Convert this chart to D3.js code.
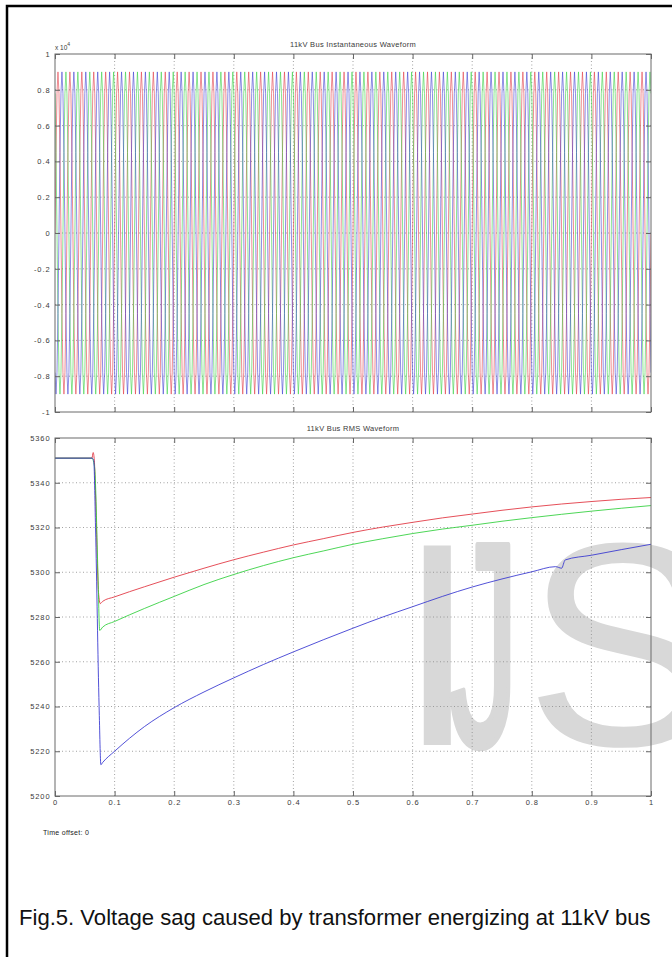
<!DOCTYPE html>
<html><head><meta charset="utf-8">
<script src="https://cdn.jsdelivr.net/npm/d3@7"></script>
<style>body{margin:0;background:#fff}svg{display:block}</style>
</head><body><svg id="c" width="672" height="957"></svg>
<script>
// ---------- data ----------
const timeTicks = [0,0.1,0.2,0.3,0.4,0.5,0.6,0.7,0.8,0.9,1];
const timeTickLabels = ["0","0.1","0.2","0.3","0.4","0.5","0.6","0.7","0.8","0.9","1"];
const instTicks = [1,0.8,0.6,0.4,0.2,0,-0.2,-0.4,-0.6,-0.8,-1];
const instTickLabels = ["1","0.8","0.6","0.4","0.2","0","-0.2","-0.4","-0.6","-0.8","-1"];
const rmsTicks = [5200,5220,5240,5260,5280,5300,5320,5340,5360];
const rmsTickLabels = ["5200","5220","5240","5260","5280","5300","5320","5340","5360"];
// one 50 Hz cycle of the instantaneous waveform (x10^4), read at 30 degree steps
const cycleShape = [0,0.45,0.78,0.9,0.78,0.45,0,-0.45,-0.78,-0.9,-0.78,-0.45];
const cyclesShown = 50;
const phaseShiftSamples = [0,4,8];   // 0, 120, 240 degrees
// RMS waveform, [time s, volts]
const rmsA = [[0,5351],[0.062,5351],[0.064,5353.5],[0.066,5350],[0.068,5335],[0.073,5291],[0.076,5286],[0.08,5287],[0.1,5289],[0.15,5293.5],[0.2,5297.8],[0.25,5301.8],[0.3,5305.6],[0.35,5309],[0.4,5312.2],[0.45,5315],[0.5,5317.8],[0.55,5320.2],[0.6,5322.3],[0.65,5324.3],[0.7,5326],[0.75,5327.7],[0.8,5329.2],[0.85,5330.5],[0.9,5331.6],[0.95,5332.6],[1,5333.4]];
const rmsB = [[0,5351],[0.062,5351],[0.065,5349],[0.067,5345],[0.072,5300],[0.075,5274],[0.08,5275.5],[0.1,5278],[0.15,5283.8],[0.2,5289.2],[0.25,5294.5],[0.3,5299],[0.35,5303],[0.4,5306.5],[0.45,5309.5],[0.5,5312.5],[0.55,5315],[0.6,5317.3],[0.65,5319.3],[0.7,5321],[0.75,5322.8],[0.8,5324.4],[0.85,5325.9],[0.9,5327.3],[0.95,5328.6],[1,5329.8]];
const rmsC = [[0,5351],[0.062,5351],[0.065,5350],[0.068,5320],[0.074,5240],[0.077,5214],[0.08,5215],[0.1,5220],[0.15,5231],[0.2,5239.5],[0.25,5246.5],[0.3,5252.8],[0.35,5258.8],[0.4,5264.4],[0.45,5269.8],[0.5,5275],[0.55,5280],[0.6,5284.6],[0.65,5289.2],[0.7,5293.4],[0.75,5297],[0.8,5300.2],[0.84,5302.5],[0.85,5301.8],[0.856,5305.5],[0.9,5307.6],[0.95,5310.1],[1,5312.5]];
const phaseColors = ["#e0303c","#2ecf3a","#3434d0"];

// ---------- layout ----------
const svg = d3.select("#c");
const xL = 55, xR = 651;
const top1 = 54, bot1 = 412, top2 = 438, bot2 = 796;
const x = d3.scaleLinear().domain([0,1]).range([xL,xR]);
const yI = d3.scaleLinear().domain([-1,1]).range([bot1,top1]);
const yR = d3.scaleLinear().domain([5200,5360]).range([bot2,top2]);

svg.append("rect").attr("width",672).attr("height",957).attr("fill","#fff");

// watermark (one text element)
const wm = svg.append("text").attr("y",745).attr("fill","#d8d8d8")
  .style("font-family","'Liberation Sans',Arial,sans-serif").style("font-size","290px");
wm.append("tspan").attr("x",397).text("I");
wm.append("tspan").attr("x",449).attr("textLength",70).attr("lengthAdjust","spacingAndGlyphs")
  .attr("stroke","#d8d8d8").attr("stroke-width",7).attr("stroke-linejoin","round").text("J");
wm.append("tspan").attr("x",525).text("S");

svg.append("defs").call(d=>{
  d.append("clipPath").attr("id","clip1").append("rect").attr("x",xL).attr("y",top1).attr("width",xR-xL).attr("height",bot1-top1);
  d.append("clipPath").attr("id","clip2").append("rect").attr("x",xL).attr("y",top2).attr("width",xR-xL).attr("height",bot2-top2);
});

function panel(y, top, bot, yTicks, yLabels, title, clipId, showX){
  const g = svg.append("g");
  const grid = g.append("g").attr("stroke","#8a8a8a").attr("stroke-width",0.8).attr("stroke-dasharray","1,2.5");
  grid.selectAll(".gx").data(timeTicks.slice(1,-1)).join("line")
    .attr("x1",d=>x(d)).attr("x2",d=>x(d)).attr("y1",top).attr("y2",bot);
  grid.selectAll(".gy").data(yTicks.slice(1,-1)).join("line")
    .attr("x1",xL).attr("x2",xR).attr("y1",d=>y(d)).attr("y2",d=>y(d));
  const plot = g.append("g").attr("clip-path",`url(#${clipId})`);
  const style = sel=>{
    sel.select(".domain").remove();
    sel.selectAll("line").attr("stroke","#666");
    sel.selectAll("text").attr("fill","#3a3a3a").style("font-family","'Liberation Sans',Arial,sans-serif").style("font-size","7.5px").style("letter-spacing","0.9px");
  };
  g.append("g").attr("transform",`translate(0,${bot})`)
    .call(d3.axisBottom(x).tickValues(timeTicks).tickSizeInner(-5).tickSizeOuter(0).tickPadding(4)
      .tickFormat((d,i)=>showX?timeTickLabels[i]:"")).call(style);
  g.append("g").attr("transform",`translate(0,${top})`)
    .call(d3.axisTop(x).tickValues(timeTicks).tickSizeInner(-5).tickSizeOuter(0).tickFormat("")).call(style);
  g.append("g").attr("transform",`translate(${xL},0)`)
    .call(d3.axisLeft(y).tickValues(yTicks).tickSizeInner(-5).tickSizeOuter(0).tickPadding(4.5)
      .tickFormat((d,i)=>yLabels[i])).call(style);
  g.append("g").attr("transform",`translate(${xR},0)`)
    .call(d3.axisRight(y).tickValues(yTicks).tickSizeInner(-5).tickSizeOuter(0).tickFormat("")).call(style);
  g.append("rect").attr("x",xL).attr("y",top).attr("width",xR-xL).attr("height",bot-top)
    .attr("fill","none").attr("stroke","#6a6a6a").attr("stroke-width",1);
  g.append("text").attr("x",(xL+xR)/2).attr("y",top-7).attr("text-anchor","middle")
    .attr("fill","#3a3a3a").style("font-family","'Liberation Sans',Arial,sans-serif").style("font-size","7.5px").style("letter-spacing","0.3px").text(title);
  return plot;
}

const p1 = panel(yI, top1, bot1, instTicks, instTickLabels, "11kV Bus Instantaneous Waveform", "clip1", false);
const p2 = panel(yR, top2, bot2, rmsTicks, rmsTickLabels, "11kV Bus RMS Waveform", "clip2", true);

// exponent label
const ex = svg.append("text").attr("x",55).attr("y",49.5).attr("fill","#3a3a3a")
  .style("font-family","'Liberation Sans',Arial,sans-serif").style("font-size","6.5px");
ex.append("tspan").text("x 10");
ex.append("tspan").attr("dy",-3.5).style("font-size","5px").text("4");

// instantaneous waveform
const nSamp = cyclesShown*cycleShape.length;
const line1 = d3.line().x(d=>x(d[0])).y(d=>yI(d[1]));
phaseShiftSamples.forEach((s,pi)=>{
  const pts = d3.range(nSamp+1).map(i=>[i/nSamp, cycleShape[(i+s)%cycleShape.length]]);
  p1.append("path").datum(pts).attr("d",line1).attr("fill","none")
    .attr("stroke",phaseColors[pi]).attr("stroke-width",0.9).attr("stroke-opacity",0.62);
});

// RMS waveform
const line2 = d3.line().x(d=>x(d[0])).y(d=>yR(d[1])).curve(d3.curveMonotoneX);
[rmsA,rmsB,rmsC].forEach((s,pi)=>{
  p2.append("path").datum(s).attr("d",line2).attr("fill","none")
    .attr("stroke",phaseColors[pi]).attr("stroke-width",1).attr("stroke-opacity",0.85);
});

// time offset
svg.append("text").attr("x",43).attr("y",835).attr("fill","#222")
  .style("font-family","'Liberation Sans',Arial,sans-serif").style("font-size","7px").style("letter-spacing","0.3px").text("Time offset: 0");

// caption
const cap = svg.append("text").attr("x",19).attr("y",925).attr("fill","#111")
  .style("font-family","'Liberation Sans',Arial,sans-serif").style("font-size","17px")
  .text("Fig.5. Voltage sag caused by transformer energizing at 11kV bus");
const L = cap.node().getComputedTextLength();
cap.style("font-size",(17*632/L).toFixed(2)+"px");

// frame
svg.append("path").attr("d","M7,957V6H672").attr("fill","none").attr("stroke","#000").attr("stroke-width",2.5);
</script></body></html>
